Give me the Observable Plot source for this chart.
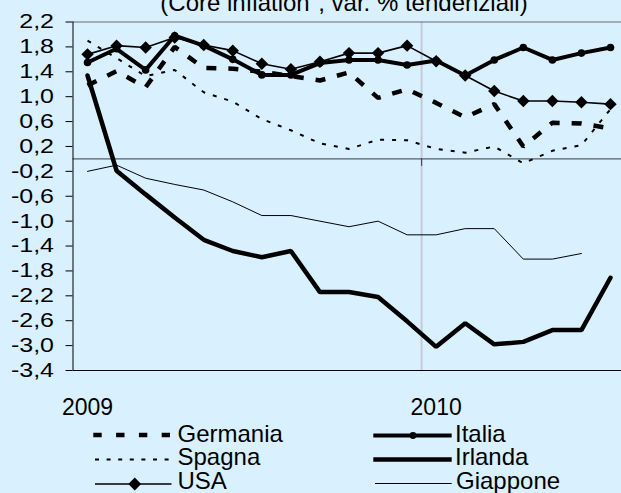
<!DOCTYPE html>
<html>
<head>
<meta charset="utf-8">
<script src="https://cdn.jsdelivr.net/npm/d3@7"></script>
<script src="https://cdn.jsdelivr.net/npm/@observablehq/plot@0.6"></script>
<style>
  body { margin: 0; background: #d9f0fe; }
  #wrap { position: relative; width: 621px; height: 493px; overflow: hidden; background: #d9f0fe;
          font-family: Arial, "Liberation Sans", sans-serif; }
  #wrap svg { position: absolute; left: 0; top: 0; }
</style>
</head>
<body>
<div id="wrap"></div>
<script>
// ---- data ----
const months = ["gen 2009","feb 2009","mar 2009","apr 2009","mag 2009","giu 2009","lug 2009","ago 2009","set 2009","ott 2009","nov 2009","dic 2009",
                "gen 2010","feb 2010","mar 2010","apr 2010","mag 2010","giu 2010","lug 2010"];
const yearTicks = [0, 12];
const yearLabels = ["2009", "2010"];
const yTicks = [-3.4,-3.0,-2.6,-2.2,-1.8,-1.4,-1.0,-0.6,-0.2,0.2,0.6,1.0,1.4,1.8,2.2];
const titleText = "(Core inflation\", var. % tendenziali)";

const germania = [1.18, 1.41, 1.15, 1.80, 1.46, 1.45, 1.40, 1.33, 1.26, 1.39, 0.98, 1.12, 0.90, 0.67, 0.88, 0.20, 0.58, 0.57, 0.49];
const spagna   = [1.90, 1.62, 1.33, 1.43, 1.07, 0.92, 0.64, 0.46, 0.25, 0.16, 0.31, 0.30, 0.16, 0.10, 0.20, -0.07, 0.13, 0.22, 0.80];
const usa      = [1.68, 1.82, 1.79, 1.95, 1.83, 1.74, 1.53, 1.44, 1.56, 1.70, 1.70, 1.82, 1.57, 1.34, 1.09, 0.93, 0.93, 0.91, 0.88];
const italia   = [1.55, 1.77, 1.43, 1.98, 1.82, 1.60, 1.35, 1.35, 1.54, 1.59, 1.59, 1.51, 1.58, 1.34, 1.59, 1.79, 1.59, 1.70, 1.79];
const irlanda  = [1.34, -0.19, -0.57, -0.94, -1.30, -1.48, -1.58, -1.48, -2.14, -2.14, -2.22, -2.61, -3.02, -2.64, -2.98, -2.94, -2.75, -2.75, -1.91];
const giappone = [-0.20, -0.10, -0.31, -0.41, -0.50, -0.69, -0.91, -0.91, -1.00, -1.09, -1.00, -1.22, -1.22, -1.12, -1.12, -1.61, -1.61, -1.52];

const seriesNames = ["Germania", "Spagna", "USA", "Italia", "Irlanda", "Giappone"];
const seriesValues = [germania, spagna, usa, italia, irlanda, giappone];

// ---- styles ----
const lineStyle = {
  Germania: {strokeWidth: 4.5, strokeDasharray: "10,12", strokeLinecap: "butt"},
  Spagna:   {strokeWidth: 2,   strokeDasharray: "4,8",   strokeLinecap: "butt"},
  USA:      {strokeWidth: 1.6},
  Italia:   {strokeWidth: 4},
  Irlanda:  {strokeWidth: 4.5},
  Giappone: {strokeWidth: 1}
};
const drawOrder = ["Giappone", "Irlanda", "Spagna", "Germania", "USA", "Italia"];

const rowsOf = name => {
  const vals = seriesValues[seriesNames.indexOf(name)];
  return vals.map((v, i) => ({series: name, i, month: months[i], v}));
};

const fmt = d => d.toFixed(1).replace(".", ",");

const plot = Plot.plot({
  width: 621,
  height: 493,
  marginTop: 21.5,
  marginBottom: 123,
  marginLeft: 72.5,
  marginRight: 0,
  style: {background: "transparent", fontFamily: "Arial, 'Liberation Sans', sans-serif", color: "black", overflow: "visible"},
  x: {type: "linear", domain: [-0.5, months.length - 0.5], range: [72.5, 624.5]},
  y: {domain: [yTicks[0], yTicks[yTicks.length - 1]]},
  marks: [
    Plot.ruleX([yearTicks[1] - 0.5], {stroke: "#c3ccd4", strokeWidth: 2}),
    Plot.ruleY([yTicks[yTicks.length - 1]], {stroke: "#6a6a6a", strokeWidth: 1}),
    Plot.ruleY([0], {stroke: "#3a3a3a", strokeWidth: 1}),
    Plot.ruleX([yearTicks[1] - 0.5], {y1: 0, y2: -0.12, stroke: "#3a3a3a", strokeWidth: 1}),
    ...drawOrder.map(name => Plot.line(rowsOf(name), {
      x: "i", y: "v", stroke: "black", strokeLinejoin: "miter", ...lineStyle[name]
    })),
    Plot.dot(rowsOf("USA"), {x: "i", y: "v", symbol: "diamond2", r: 5.6, fill: "black", stroke: "none"}),
    Plot.dot(rowsOf("Italia"), {x: "i", y: "v", symbol: "circle", r: 3.8, fill: "black", stroke: "none"}),
    Plot.axisY(yTicks, {tickSize: 7, tickPadding: 12, fontSize: 20, tickFormat: fmt, label: null}),
    Plot.axisX(yearTicks, {tickSize: 0, tickPadding: 28, fontSize: 23, label: null,
      tickFormat: d => yearLabels[yearTicks.indexOf(d)]}),
    Plot.ruleX([-0.5], {stroke: "black", strokeWidth: 1}),
    Plot.ruleY([yTicks[0]], {stroke: "black", strokeWidth: 1})
  ]
});

const wrap = document.getElementById("wrap");
wrap.appendChild(plot);

// horizontally widen y tick labels (anchored at their right end) to match reference glyph proportions
d3.select(plot).selectAll('g[aria-label="y-axis tick label"] text').each(function() {
  const t = this.getAttribute("transform") || "";
  this.setAttribute("transform", t + " scale(1.25,1)");
});

// ---- title + legend overlay ----
const ov = d3.select(wrap).append("svg")
  .attr("width", 621).attr("height", 493)
  .style("font-family", "Arial, 'Liberation Sans', sans-serif")
  .style("pointer-events", "none");

ov.append("text").attr("x", 344).attr("y", 10.5).attr("text-anchor", "middle")
  .attr("font-size", 24).attr("fill", "black").text(titleText);

const legendPos = {
  Germania: {x1: 93.3, x2: 170, y: 435, tx: 177.5, ty: 441.7},
  Spagna:   {x1: 95,   x2: 170, y: 459.5, tx: 177.5, ty: 465.2},
  USA:      {x1: 95,   x2: 171.5, y: 484, tx: 177.5, ty: 488.5},
  Italia:   {x1: 373.3, x2: 451.7, y: 435.5, tx: 455, ty: 441.7},
  Irlanda:  {x1: 373.3, x2: 451.7, y: 459.5, tx: 455, ty: 465.2},
  Giappone: {x1: 375,  x2: 451.7, y: 483.5, tx: 456, ty: 488.5}
};
const legendDash = {Germania: "8.4,14.4", Spagna: "4,7.6"};

seriesNames.forEach(name => {
  const p = legendPos[name], s = lineStyle[name];
  const ln = ov.append("line").attr("x1", p.x1).attr("x2", p.x2).attr("y1", p.y).attr("y2", p.y)
    .attr("stroke", "black").attr("stroke-width", s.strokeWidth);
  if (legendDash[name]) ln.attr("stroke-dasharray", legendDash[name]);
  if (name === "USA") {
    const cx = (p.x1 + p.x2) / 2 + 1.5, h = 6.4;
    ov.append("path").attr("d", `M${cx},${p.y - h}L${cx + h},${p.y}L${cx},${p.y + h}L${cx - h},${p.y}Z`).attr("fill", "black");
  }
  if (name === "Italia") {
    ov.append("circle").attr("cx", (p.x1 + p.x2) / 2 + 0.5).attr("cy", p.y).attr("r", 3.4).attr("fill", "black");
  }
  ov.append("text").attr("x", p.tx).attr("y", p.ty).attr("font-size", 24).attr("fill", "black").text(name);
});
</script>
</body>
</html>
